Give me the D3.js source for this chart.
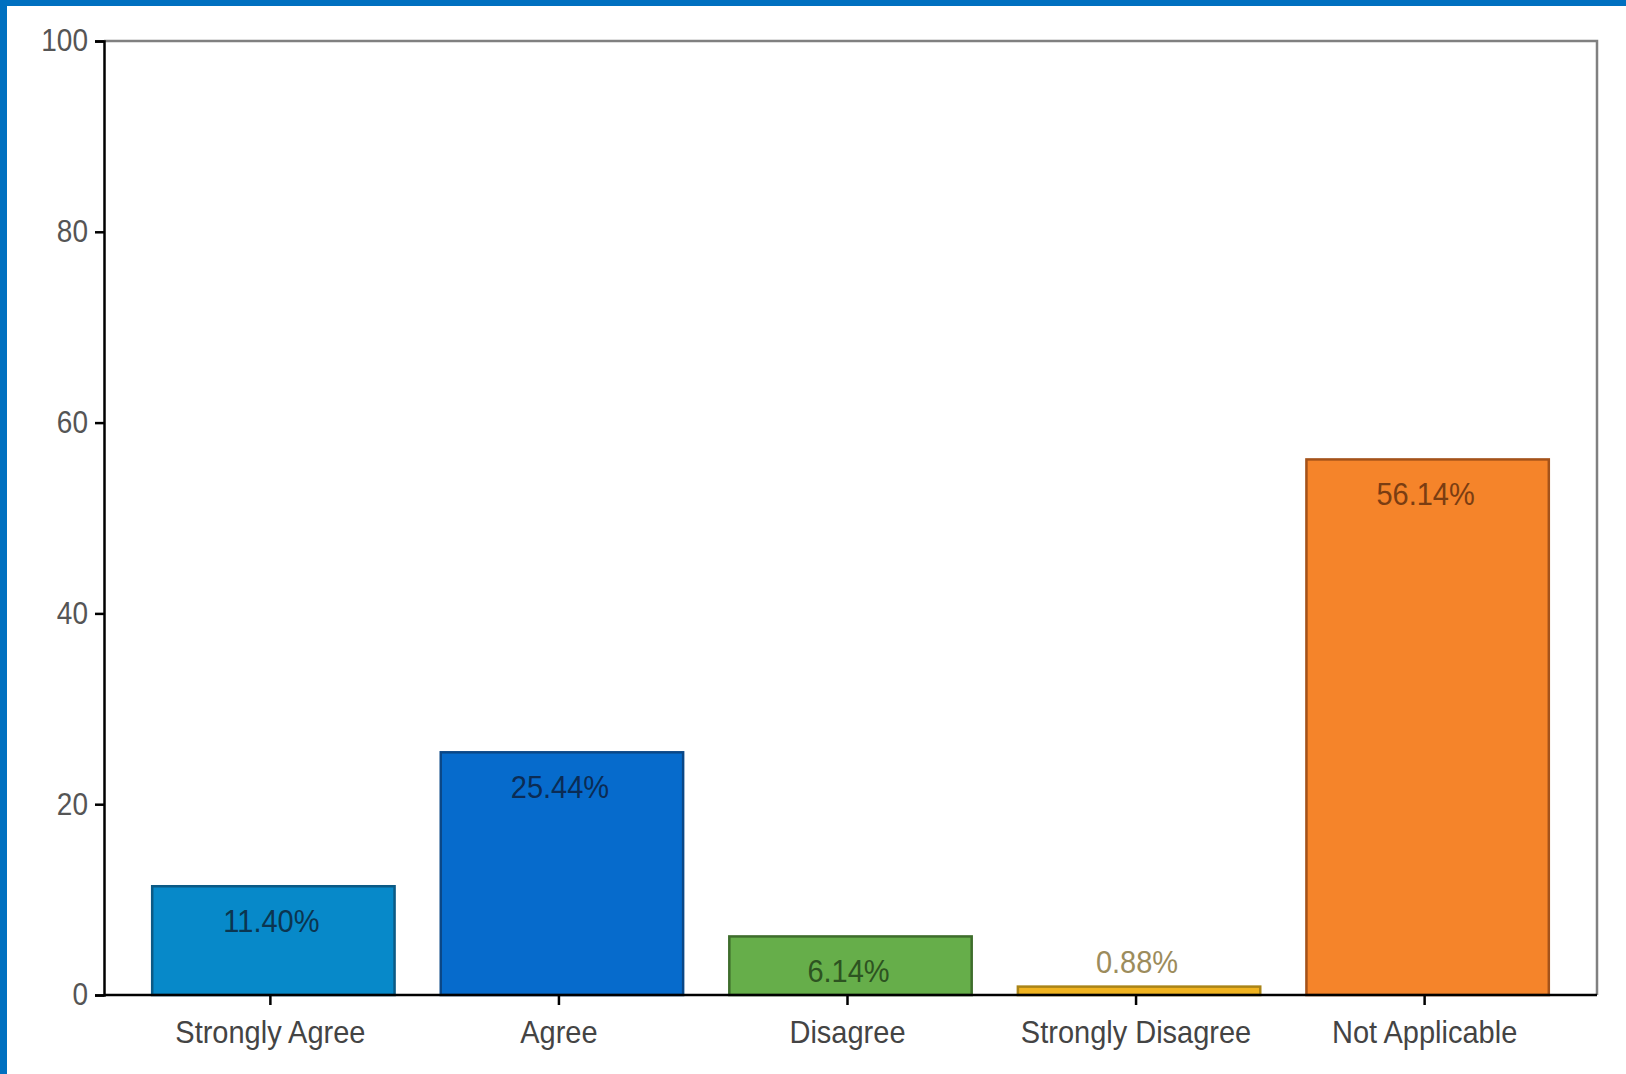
<!DOCTYPE html>
<html>
<head>
<meta charset="utf-8">
<script src="https://cdn.jsdelivr.net/npm/d3@7"></script>
<style>
  html, body { margin: 0; padding: 0; background: #fff; }
  svg { display: block; }
  text { font-family: "Liberation Sans", Arial, sans-serif; }
  /* slightly tall lettering */
  .tall { transform-box: fill-box; transform-origin: center; transform: scaleY(1.1); }
</style>
</head>
<body>
<script>
// Survey response shares (%)
const categories = ["Strongly Agree", "Agree", "Disagree", "Strongly Disagree", "Not Applicable"];
const percents = [11.40, 25.44, 6.14, 0.88, 56.14];
const yTicks = [0, 20, 40, 60, 80, 100];

const fills   = ["#0789c9", "#066bcc", "#66ae4a", "#f0b320", "#f5842a"];
const strokes = ["#0b5a85", "#0a4787", "#3e6d2c", "#a98418", "#a4521a"];
const labelColors = ["#0b3550", "#0b2c55", "#2d5321", "#9c8c5c", "#7a3d12"];

const W = 1626, H = 1074;
const plot = { left: 104, right: 1597, top: 41, bottom: 995 };
const tickShift = -3;

const svg = d3.select("body").append("svg")
  .attr("width", W).attr("height", H);

// frame accent on the top and left edges
svg.append("rect").attr("x", 0).attr("y", 0).attr("width", W).attr("height", 6).attr("fill", "#0070c0");
svg.append("rect").attr("x", 0).attr("y", 0).attr("width", 7).attr("height", H).attr("fill", "#0070c0");

const x = d3.scaleBand()
  .domain(categories)
  .range([plot.left, plot.right])
  .paddingInner(0.16)
  .paddingOuter(0.167);

const y = d3.scaleLinear()
  .domain([0, 100])
  .range([plot.bottom, plot.top]);

// top and right border of the plot area
svg.append("path")
  .attr("d", `M${plot.left},${plot.top}H${plot.right}V${plot.bottom}`)
  .attr("fill", "none").attr("stroke", "#808080").attr("stroke-width", 2.5);

// bars
const data = categories.map((c, i) => ({ c, v: percents[i], i }));
svg.append("g").selectAll("rect").data(data).join("rect")
  .attr("x", d => x(d.c))
  .attr("y", d => y(d.v))
  .attr("width", x.bandwidth())
  .attr("height", d => y(0) - y(d.v))
  .attr("fill", d => fills[d.i])
  .attr("stroke", d => strokes[d.i])
  .attr("stroke-width", 2.5);

// value labels: inside the bar top, or above it when the bar is too short
svg.append("g").selectAll("text").data(data).join("text")
  .attr("class", "tall")
  .attr("x", d => x(d.c) + x.bandwidth() / 2 - 2)
  .attr("y", d => (y(0) - y(d.v)) > 45 ? y(d.v) + 45 : y(d.v) - 15)
  .attr("text-anchor", "middle")
  .attr("font-size", 29)
  .attr("fill", d => labelColors[d.i])
  .text(d => d.v.toFixed(2) + "%");

// y axis
const yAxis = svg.append("g")
  .attr("transform", `translate(${plot.left},0)`)
  .call(d3.axisLeft(y).tickValues(yTicks).tickSize(9).tickPadding(7).tickFormat(d3.format("d")));
yAxis.select(".domain").attr("stroke", "#000").attr("stroke-width", 2.5);
yAxis.selectAll(".tick line").attr("stroke", "#000").attr("stroke-width", 2.5);
yAxis.selectAll(".tick text")
  .attr("class", "tall")
  .attr("font-size", 28).attr("fill", "#555")
  .style("font-family", "'Liberation Sans', Arial, sans-serif");

// x axis
const xAxis = svg.append("g")
  .attr("transform", `translate(${tickShift},${plot.bottom})`)
  .call(d3.axisBottom(x).tickSizeOuter(0).tickSize(10).tickPadding(16));
xAxis.select(".domain").attr("stroke", "#000").attr("stroke-width", 2.5)
  .attr("d", `M${plot.left - tickShift},0H${plot.right - tickShift}`);
xAxis.selectAll(".tick line").attr("stroke", "#000").attr("stroke-width", 2.5);
xAxis.selectAll(".tick text")
  .attr("class", "tall")
  .attr("font-size", 29).attr("fill", "#444")
  .style("font-family", "'Liberation Sans', Arial, sans-serif");
</script>
</body>
</html>
